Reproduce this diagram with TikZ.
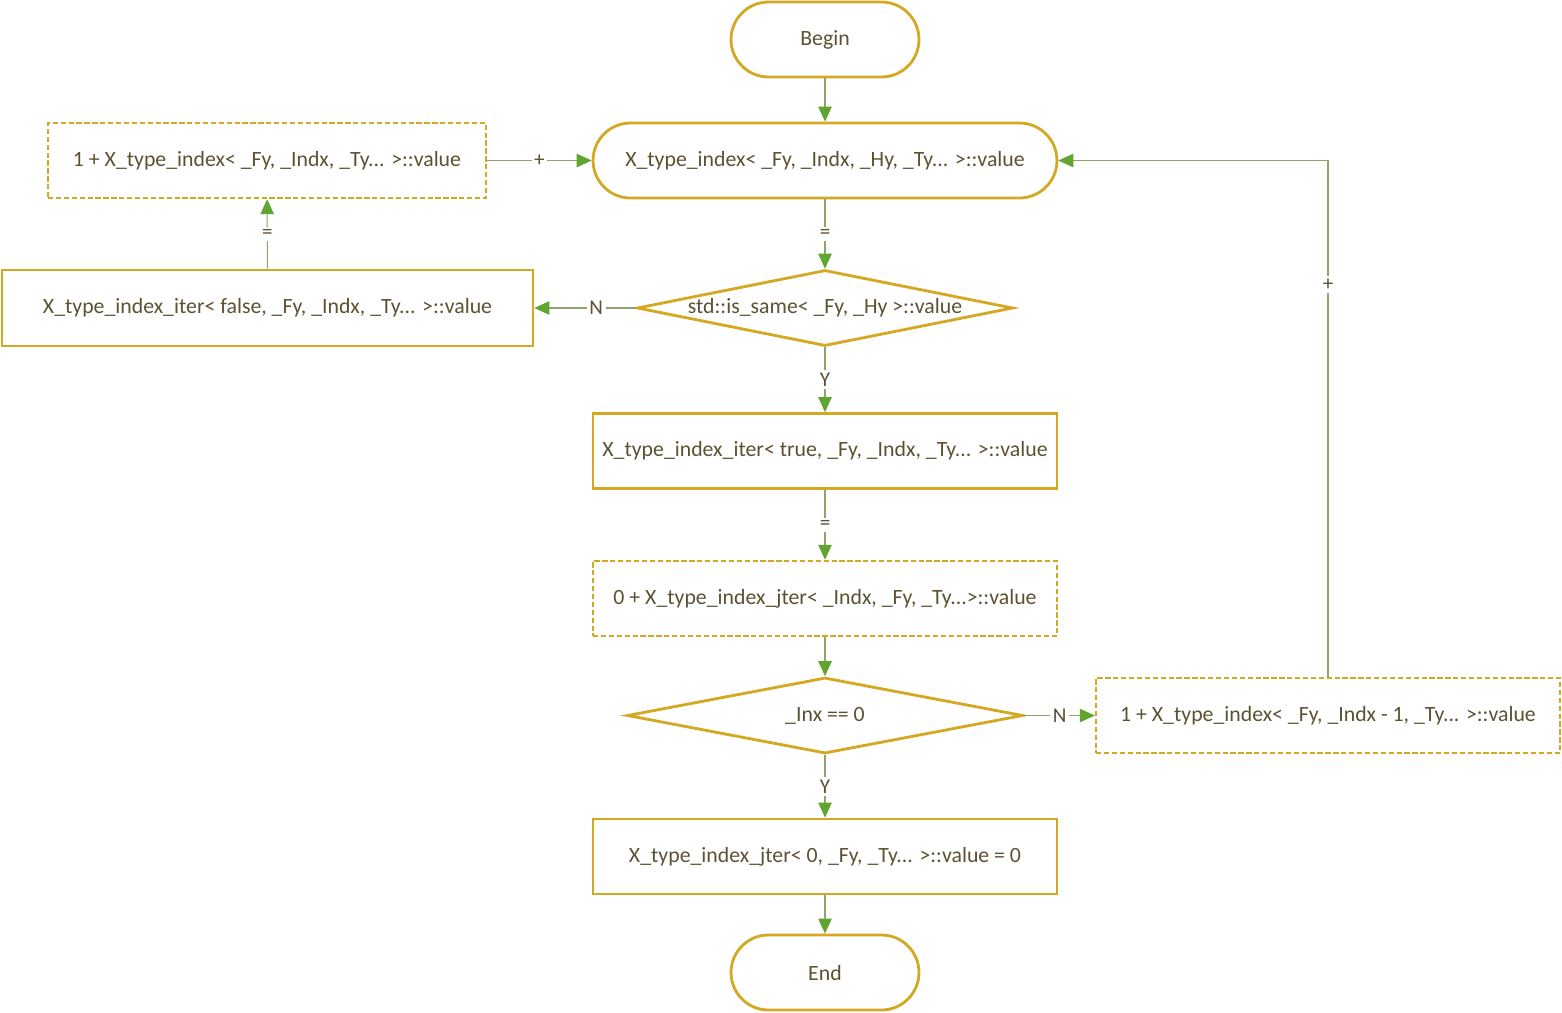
\documentclass[tikz,border=0pt]{standalone}
\usepackage{fontspec}
\setmainfont{Carlito}
\usetikzlibrary{arrows.meta,shapes.geometric}
\definecolor{gold}{HTML}{D4A823}
\definecolor{txt}{HTML}{5C5232}
\definecolor{lnc}{HTML}{8FA46C}
\definecolor{arr}{HTML}{5FA52F}
\tikzset{
  base/.style={draw=gold, line width=1.6pt, text=txt, font=\fontsize{12.4}{15}\selectfont, inner sep=0pt, fill=white},
  term/.style={base, rectangle, rounded corners=0.75cm, minimum width=3.76cm, minimum height=1.5cm},
  pill/.style={base, rectangle, rounded corners=0.75cm, minimum width=9.28cm, minimum height=1.5cm},
  proc/.style={base, rectangle, minimum width=9.28cm, minimum height=1.5cm},
  dproc/.style={proc, line width=1.4pt, dash pattern=on 3pt off 1.5pt},
  dia/.style={base, diamond, minimum height=1.52cm},
  conn/.style={draw=lnc, line width=0.6pt, -{Triangle[length=0.3cm,width=0.27cm,color=arr,fill=arr]}},
  lab/.style={fill=white, text=txt, inner sep=1.5pt, font=\fontsize{12}{14}\selectfont}
}
\begin{document}
\begin{tikzpicture}[x=0.02cm,y=-0.02cm]
\useasboundingbox (0,0) rectangle (1562,1012);
\node[term] (begin) at (825,39.5) {Begin};
\node[pill] (main) at (825,160.5) {X\_type\_index< \_Fy, \_Indx, \_Hy, \_Ty... >::value};
\node[dproc, minimum width=8.76cm] (ld) at (267,160.5) {1 + X\_type\_index< \_Fy, \_Indx, \_Ty... >::value};
\node[proc, minimum width=10.62cm, minimum height=1.52cm] (lb) at (267.5,308) {X\_type\_index\_iter< false, \_Fy, \_Indx, \_Ty... >::value};
\node[dia, minimum width=7.52cm, label={[text=txt,font=\fontsize{12.4}{15}\selectfont]center:std::is\_same< \_Fy, \_Hy >::value}] (d1) at (825,308) {};
\node[proc] (it) at (825,451) {X\_type\_index\_iter< true, \_Fy, \_Indx, \_Ty... >::value};
\node[dproc] (z) at (825,598.5) {0 + X\_type\_index\_jter< \_Indx, \_Fy, \_Ty...>::value};
\node[dia, minimum width=7.92cm, label={[text=txt,font=\fontsize{12.4}{15}\selectfont]center:\_Inx == 0}] (d2) at (825,715.5) {};
\node[dproc] (rd) at (1328,715.5) {1 + X\_type\_index< \_Fy, \_Indx - 1, \_Ty... >::value};
\node[proc] (jt) at (825,856.5) {X\_type\_index\_jter< 0, \_Fy, \_Ty... >::value = 0};
\node[term] (end) at (825,972.5) {End};

\draw[conn] (begin) -- (main);
\draw[conn] (main) -- node[lab]{=} (d1);
\draw[conn] (d1) -- node[lab,pos=0.39]{N} (lb);
\draw[conn] (lb) -- node[lab]{=} (ld);
\draw[conn] (ld) -- node[lab]{+} (main);
\draw[conn] (d1) -- node[lab]{Y} (it);
\draw[conn] (it) -- node[lab]{=} (z);
\draw[conn] (z) -- (d2);
\draw[conn] (d2) -- node[lab]{N} (rd);
\draw[conn] (rd.north) |- node[lab,pos=0.38]{+} (main.east);
\draw[conn] (d2) -- node[lab]{Y} (jt);
\draw[conn] (jt) -- (end);
\end{tikzpicture}
\end{document}
